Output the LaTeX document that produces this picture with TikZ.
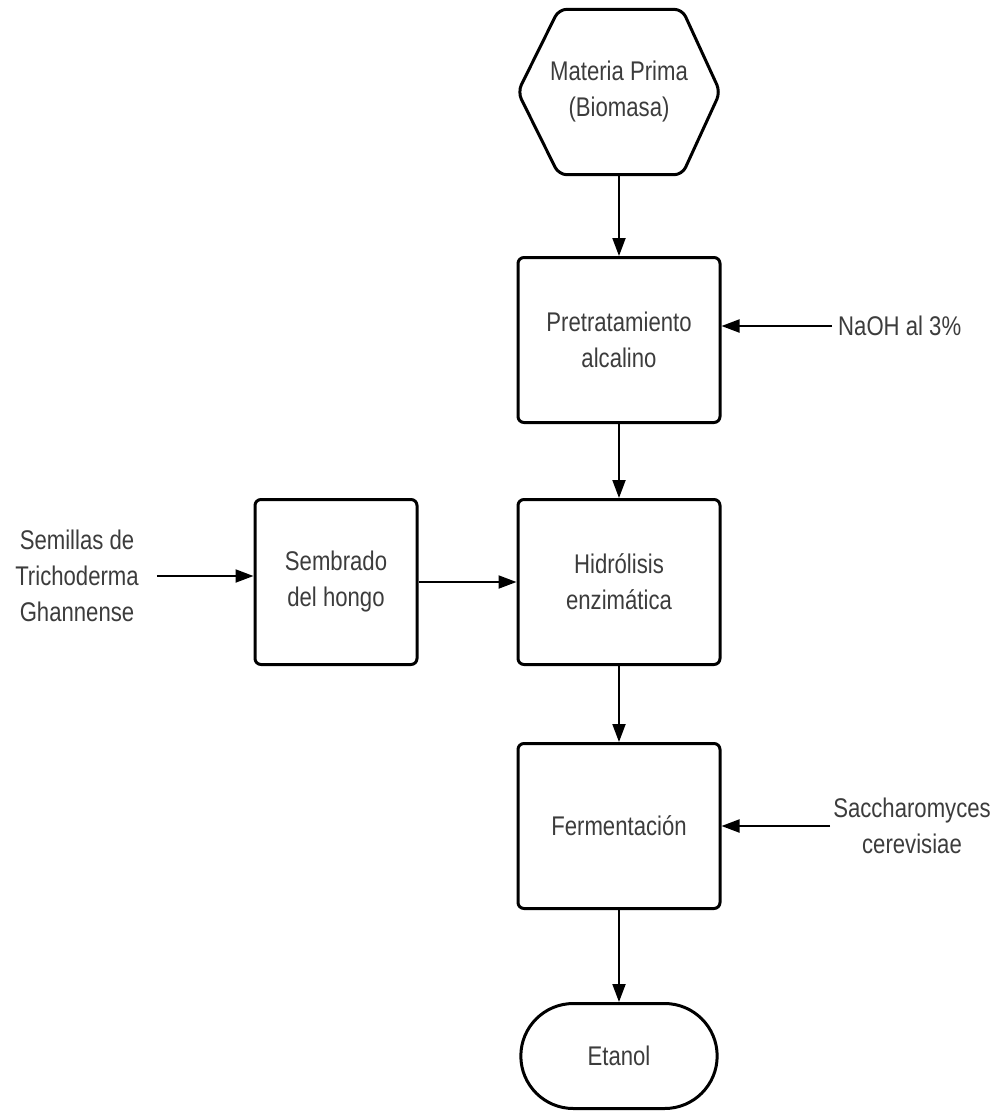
\documentclass[tikz,border=0pt]{standalone}
\usepackage{fontspec}
\setmainfont[FakeStretch=0.82]{Liberation Sans}
\usetikzlibrary{arrows.meta,shapes.misc,calc}
\definecolor{txtgray}{HTML}{3C3C3C}
\tikzset{
  every node/.style={font=\fontsize{27}{36}\selectfont,text=txtgray,align=center},
  procbox/.style={draw=black,line width=3pt,rounded corners=6pt,minimum width=202pt,minimum height=165pt},
  endbox/.style={draw=black,line width=3pt,rounded rectangle,minimum width=203pt,minimum height=105pt},
  flow/.style={-{Triangle[length=18pt,width=13pt]},line width=2pt}
}
\begin{document}
\begin{tikzpicture}[x=1pt,y=-1pt]
\useasboundingbox (0,0) rectangle (998,1112);
%main column
\node[minimum width=202pt,minimum height=165pt](mp)at(619,92){Materia Prima\\(Biomasa)};
\draw[line width=3pt,rounded corners=8pt](mp.north)--($(mp.north east)+(-38,0)$)--(mp.east)
  --($(mp.south east)+(-38,0)$)--($(mp.south west)+(41,0)$)--(mp.west)
  --($(mp.north west)+(41,0)$)--cycle;
\node[procbox](pre)at(619,340){Pretratamiento\\alcalino};
\node[procbox](hid)at(619,582){Hidrólisis\\enzimática};
\node[procbox](fer)at(619,826){Fermentación};
\node[endbox](eta)at(619,1056){Etanol};
%side branch
\node[procbox,minimum width=162pt](semb)at(336,582){Sembrado\\del hongo};
%inputs
\node[anchor=west,inner sep=6pt](naoh)at(832,326){NaOH al 3\%};
\node[inner sep=3pt](sac)at(912,826){Saccharomyces\\cerevisiae};
\node[inner sep=4pt](sem)at(77,576){Semillas de\\Trichoderma\\Ghannense};
%connectors
\draw[flow](mp.south)--(pre.north);
\draw[flow](pre.south)--(hid.north);
\draw[flow](hid.south)--(fer.north);
\draw[flow](fer.south)--(eta.north);
\draw[flow](naoh.west)--(naoh.west -| pre.east);
\draw[flow](sac.west)--(sac.west -| fer.east);
\draw[flow,shorten <=14pt](sem.east)--(sem.east -| semb.west);
\draw[flow](semb.east)--(hid.west);
\end{tikzpicture}
\end{document}
